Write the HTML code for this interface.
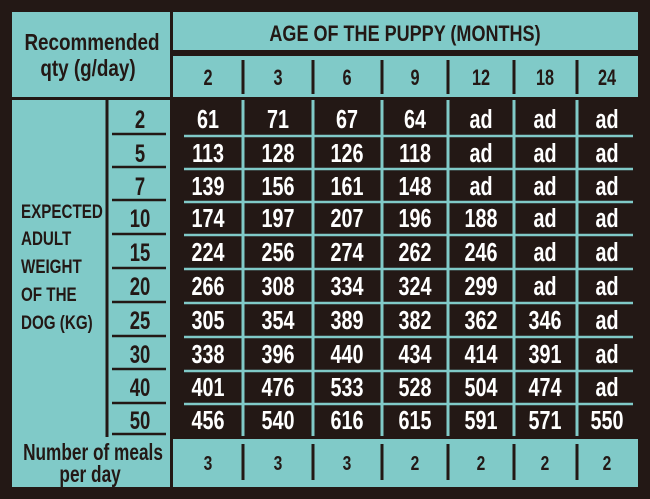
<!DOCTYPE html>
<html><head><meta charset="utf-8"><style>
html,body{margin:0;padding:0;background:#231815;}
svg{display:block}
text{font-family:"Liberation Sans",sans-serif;font-weight:bold;transform-box:fill-box;transform-origin:center;}
.w{fill:#fff;font-size:26px;text-anchor:middle;transform:scaleX(0.76)}
.k{fill:#231815;text-anchor:middle;transform:scaleX(0.82)}
.h{font-size:22px;transform:scaleX(0.74)}
.f{font-size:20px;transform:scaleX(0.78)}
.n{transform:scaleX(0.75)}
.l{fill:#231815;font-size:19px;transform-origin:left center;transform:scaleX(0.8)}
.g{fill:#231815;font-size:25px;text-anchor:middle;transform:scaleX(0.74)}
</style></head><body>
<svg width="650" height="499" viewBox="0 0 650 499" xmlns="http://www.w3.org/2000/svg">
<rect width="650" height="499" fill="#231815"/>
<g fill="#80cac8">
<rect x="12" y="12" width="158" height="85"/>
<rect x="12" y="100" width="158" height="387"/>
<rect x="173" y="12" width="465" height="38"/>
<rect x="173" y="56" width="465" height="41"/>
<rect x="173" y="439" width="465" height="48"/>
</g>
<g stroke="#80cac8" stroke-width="3">
<line x1="243" y1="100" x2="243" y2="436"/><line x1="313" y1="100" x2="313" y2="436"/>
<line x1="382" y1="100" x2="382" y2="436"/><line x1="448" y1="100" x2="448" y2="436"/>
<line x1="514" y1="100" x2="514" y2="436"/><line x1="577" y1="100" x2="577" y2="436"/>
</g>
<g stroke="#80cac8" stroke-width="2.5">
<line x1="184" y1="136" x2="633" y2="136"/><line x1="184" y1="169" x2="633" y2="169"/>
<line x1="184" y1="202" x2="633" y2="202"/><line x1="184" y1="235" x2="633" y2="235"/>
<line x1="184" y1="269" x2="633" y2="269"/><line x1="184" y1="303" x2="633" y2="303"/>
<line x1="184" y1="337" x2="633" y2="337"/><line x1="184" y1="371" x2="633" y2="371"/>
<line x1="184" y1="404" x2="633" y2="404"/>
</g>
<g stroke="#231815" stroke-width="3">
<line x1="243" y1="60" x2="243" y2="94"/><line x1="313" y1="60" x2="313" y2="94"/>
<line x1="382" y1="60" x2="382" y2="94"/><line x1="448" y1="60" x2="448" y2="94"/>
<line x1="514" y1="60" x2="514" y2="94"/><line x1="577" y1="60" x2="577" y2="94"/>
<line x1="243" y1="444" x2="243" y2="480"/><line x1="313" y1="444" x2="313" y2="480"/>
<line x1="382" y1="444" x2="382" y2="480"/><line x1="448" y1="444" x2="448" y2="480"/>
<line x1="514" y1="444" x2="514" y2="480"/><line x1="577" y1="444" x2="577" y2="480"/>
<line x1="107" y1="100" x2="107" y2="437"/>
</g>
<g stroke="#231815" stroke-width="2.5">
<line x1="112" y1="134" x2="166" y2="134"/><line x1="112" y1="167" x2="166" y2="167"/>
<line x1="112" y1="200" x2="166" y2="200"/><line x1="112" y1="234" x2="166" y2="234"/>
<line x1="112" y1="268" x2="166" y2="268"/><line x1="112" y1="302" x2="166" y2="302"/>
<line x1="112" y1="336" x2="166" y2="336"/><line x1="112" y1="369" x2="166" y2="369"/>
<line x1="112" y1="403" x2="166" y2="403"/><line x1="112" y1="434" x2="166" y2="434"/>
</g>
<text class="k" x="92" y="50" font-size="23">Recommended</text>
<text class="k" x="88" y="76" font-size="23">qty (g/day)</text>
<text class="k" x="405" y="41" font-size="22">AGE OF THE PUPPY (MONTHS)</text>
<text class="k h" x="208" y="85">2</text><text class="k h" x="278" y="85">3</text>
<text class="k h" x="347" y="85">6</text><text class="k h" x="415" y="85">9</text>
<text class="k h" x="481" y="85">12</text><text class="k h" x="545" y="85">18</text>
<text class="k h" x="607" y="85">24</text>
<text class="l" x="21" y="218">EXPECTED</text><text class="l" x="21" y="245">ADULT</text>
<text class="l" x="21" y="273">WEIGHT</text><text class="l" x="21" y="301">OF THE</text>
<text class="l" x="21" y="329">DOG (KG)</text>
<text class="g" x="140" y="128">2</text><text class="g" x="140" y="162">5</text><text class="g" x="140" y="195">7</text>
<text class="g" x="140" y="227">10</text><text class="g" x="140" y="261">15</text><text class="g" x="140" y="295">20</text>
<text class="g" x="140" y="329">25</text><text class="g" x="140" y="363">30</text><text class="g" x="140" y="396">40</text>
<text class="g" x="140" y="429">50</text>
<text class="k n" x="93" y="460" font-size="23">Number of meals</text>
<text class="k n" x="90" y="482" font-size="23">per day</text>
<text class="k f" x="208" y="470">3</text><text class="k f" x="278" y="470">3</text>
<text class="k f" x="347" y="470">3</text><text class="k f" x="415" y="470">2</text>
<text class="k f" x="481" y="470">2</text><text class="k f" x="545" y="470">2</text>
<text class="k f" x="607" y="470">2</text>
<g>
<text class="w" x="208" y="128">61</text><text class="w" x="278" y="128">71</text><text class="w" x="347" y="128">67</text><text class="w" x="415" y="128">64</text><text class="w" x="481" y="128">ad</text><text class="w" x="545" y="128">ad</text><text class="w" x="607" y="128">ad</text>
<text class="w" x="208" y="162">113</text><text class="w" x="278" y="162">128</text><text class="w" x="347" y="162">126</text><text class="w" x="415" y="162">118</text><text class="w" x="481" y="162">ad</text><text class="w" x="545" y="162">ad</text><text class="w" x="607" y="162">ad</text>
<text class="w" x="208" y="195">139</text><text class="w" x="278" y="195">156</text><text class="w" x="347" y="195">161</text><text class="w" x="415" y="195">148</text><text class="w" x="481" y="195">ad</text><text class="w" x="545" y="195">ad</text><text class="w" x="607" y="195">ad</text>
<text class="w" x="208" y="227">174</text><text class="w" x="278" y="227">197</text><text class="w" x="347" y="227">207</text><text class="w" x="415" y="227">196</text><text class="w" x="481" y="227">188</text><text class="w" x="545" y="227">ad</text><text class="w" x="607" y="227">ad</text>
<text class="w" x="208" y="261">224</text><text class="w" x="278" y="261">256</text><text class="w" x="347" y="261">274</text><text class="w" x="415" y="261">262</text><text class="w" x="481" y="261">246</text><text class="w" x="545" y="261">ad</text><text class="w" x="607" y="261">ad</text>
<text class="w" x="208" y="295">266</text><text class="w" x="278" y="295">308</text><text class="w" x="347" y="295">334</text><text class="w" x="415" y="295">324</text><text class="w" x="481" y="295">299</text><text class="w" x="545" y="295">ad</text><text class="w" x="607" y="295">ad</text>
<text class="w" x="208" y="329">305</text><text class="w" x="278" y="329">354</text><text class="w" x="347" y="329">389</text><text class="w" x="415" y="329">382</text><text class="w" x="481" y="329">362</text><text class="w" x="545" y="329">346</text><text class="w" x="607" y="329">ad</text>
<text class="w" x="208" y="363">338</text><text class="w" x="278" y="363">396</text><text class="w" x="347" y="363">440</text><text class="w" x="415" y="363">434</text><text class="w" x="481" y="363">414</text><text class="w" x="545" y="363">391</text><text class="w" x="607" y="363">ad</text>
<text class="w" x="208" y="396">401</text><text class="w" x="278" y="396">476</text><text class="w" x="347" y="396">533</text><text class="w" x="415" y="396">528</text><text class="w" x="481" y="396">504</text><text class="w" x="545" y="396">474</text><text class="w" x="607" y="396">ad</text>
<text class="w" x="208" y="429">456</text><text class="w" x="278" y="429">540</text><text class="w" x="347" y="429">616</text><text class="w" x="415" y="429">615</text><text class="w" x="481" y="429">591</text><text class="w" x="545" y="429">571</text><text class="w" x="607" y="429">550</text>
</g>
</svg>
</body></html>
